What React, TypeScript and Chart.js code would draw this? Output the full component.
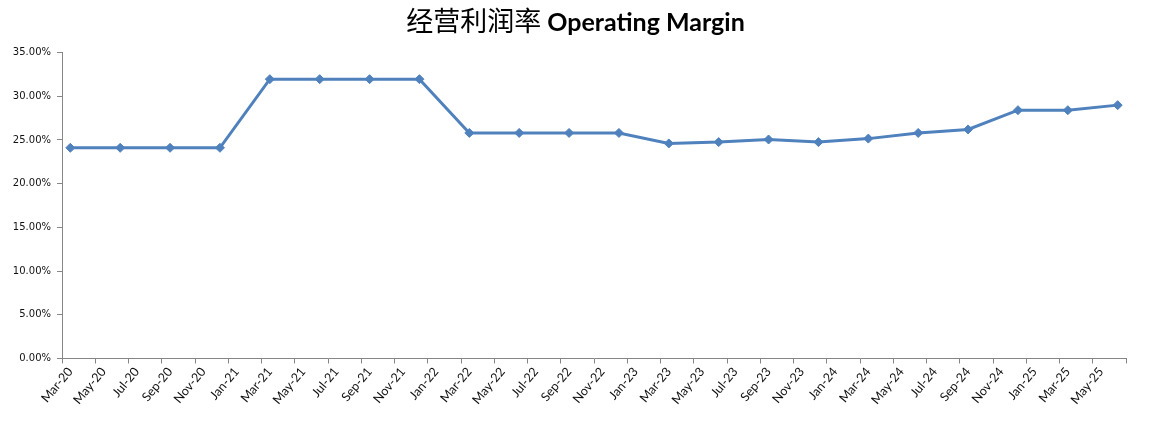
import React, { useEffect, useRef } from 'react';
import { Chart, registerables } from 'chart.js';

Chart.register(...registerables);

const TITLE_CN = '经营利润率';
const TITLE_EN = 'Operating Margin';

const quarters = [
  'Mar-20', 'Jun-20', 'Sep-20', 'Dec-20',
  'Mar-21', 'Jun-21', 'Sep-21', 'Dec-21',
  'Mar-22', 'Jun-22', 'Sep-22', 'Dec-22',
  'Mar-23', 'Jun-23', 'Sep-23', 'Dec-23',
  'Mar-24', 'Jun-24', 'Sep-24', 'Dec-24',
  'Mar-25', 'Jun-25',
];

const operatingMargin = [
  0.241, 0.241, 0.241, 0.241,
  0.3195, 0.3195, 0.3195, 0.3195,
  0.258, 0.258, 0.258, 0.258,
  0.246, 0.2475, 0.2505, 0.2475,
  0.2515, 0.258, 0.262, 0.284,
  0.284, 0.2898,
];

const xTickLabels = [
  'Mar-20', 'May-20', 'Jul-20', 'Sep-20', 'Nov-20',
  'Jan-21', 'Mar-21', 'May-21', 'Jul-21', 'Sep-21', 'Nov-21',
  'Jan-22', 'Mar-22', 'May-22', 'Jul-22', 'Sep-22', 'Nov-22',
  'Jan-23', 'Mar-23', 'May-23', 'Jul-23', 'Sep-23', 'Nov-23',
  'Jan-24', 'Mar-24', 'May-24', 'Jul-24', 'Sep-24', 'Nov-24',
  'Jan-25', 'Mar-25', 'May-25',
];

const Y_MIN = 0;
const Y_MAX = 0.35;
const Y_STEP = 0.05;

const MONTHS = ['Jan', 'Feb', 'Mar', 'Apr', 'May', 'Jun', 'Jul', 'Aug', 'Sep', 'Oct', 'Nov', 'Dec'];

// month index counted from the first axis month (Mar-20 = 0)
function monthIndex(label: string): number {
  const [m, y] = label.split('-');
  const first = xTickLabels[0].split('-');
  return (Number(y) - Number(first[1])) * 12 + MONTHS.indexOf(m) - MONTHS.indexOf(first[0]);
}

const AXIS_COLOR = '#868686';
const LINE_COLOR = '#4F81BD';
const TEXT_COLOR = '#111';

const titlePlugin = {
  id: 'twoPartTitle',
  afterDraw(chart: any) {
    const ctx = chart.ctx as CanvasRenderingContext2D;
    ctx.save();
    const cn = TITLE_CN + ' ';
    ctx.font = '27px "Noto Sans CJK SC"';
    const w1 = ctx.measureText(cn).width;
    ctx.font = 'bold 25px Lato';
    const w2 = ctx.measureText(TITLE_EN).width;
    const x0 = chart.width / 2 - (w1 + w2) / 2;
    const baseline = 31;
    ctx.fillStyle = '#000';
    ctx.textAlign = 'left';
    ctx.textBaseline = 'alphabetic';
    ctx.font = '27px "Noto Sans CJK SC"';
    ctx.fillText(cn, x0, baseline);
    ctx.font = 'bold 25px Lato';
    ctx.fillText(TITLE_EN, x0 + w1, baseline);
    ctx.restore();
  },
};

export default function App() {
  const canvasRef = useRef<HTMLCanvasElement | null>(null);

  useEffect(() => {
    if (!canvasRef.current) return;
    const points = quarters.map((q, i) => ({ x: monthIndex(q) + 0.5, y: operatingMargin[i] }));
    const chart = new Chart(canvasRef.current, {
      type: 'line',
      data: {
        datasets: [
          {
            label: TITLE_EN,
            data: points,
            borderColor: LINE_COLOR,
            backgroundColor: LINE_COLOR,
            borderWidth: 3,
            pointStyle: 'rectRot',
            pointRadius: 4.5,
            pointBorderWidth: 1,
            pointBackgroundColor: LINE_COLOR,
            pointBorderColor: LINE_COLOR,
            tension: 0,
            fill: false,
          },
        ],
      },
      options: {
        responsive: false,
        animation: false,
        layout: { padding: { top: 52.5, right: 25, left: 0, bottom: 0 } },
        plugins: {
          legend: { display: false },
          title: { display: false },
          tooltip: { enabled: false },
        },
        scales: {
          x: {
            type: 'linear',
            min: 0,
            max: xTickLabels.length * 2,
            afterFit: (scale: any) => {
              scale.height = 72.5;
            },
            border: { color: AXIS_COLOR, width: 1 },
            grid: {
              drawOnChartArea: false,
              drawTicks: true,
              tickLength: 5,
              color: AXIS_COLOR,
            },
            ticks: {
              stepSize: 2,
              autoSkip: false,
              maxRotation: 50,
              minRotation: 50,
              labelOffset: 8.3,
              padding: 1,
              color: TEXT_COLOR,
              font: { family: 'Lato', size: 12.5 },
              callback: (v: any) => {
                const idx = Math.round(Number(v) / 2);
                return xTickLabels[idx] ?? '';
              },
            },
          },
          y: {
            min: Y_MIN,
            max: Y_MAX,
            afterFit: (scale: any) => {
              scale.width = 62;
            },
            border: { color: AXIS_COLOR, width: 1 },
            grid: {
              drawOnChartArea: false,
              drawTicks: true,
              tickLength: 5,
              color: AXIS_COLOR,
            },
            ticks: {
              stepSize: Y_STEP,
              padding: 6,
              color: TEXT_COLOR,
              font: { family: 'DejaVu Sans', size: 10 },
              callback: (v: any) => (Number(v) * 100).toFixed(2) + '%',
            },
          },
        },
      },
      plugins: [titlePlugin],
    });
    return () => chart.destroy();
  }, []);

  return (
    <div style={{ position: 'absolute', left: 0, top: 0, width: 1151, height: 431, background: '#fff' }}>
      <canvas ref={canvasRef} width={1151} height={431} />
    </div>
  );
}
